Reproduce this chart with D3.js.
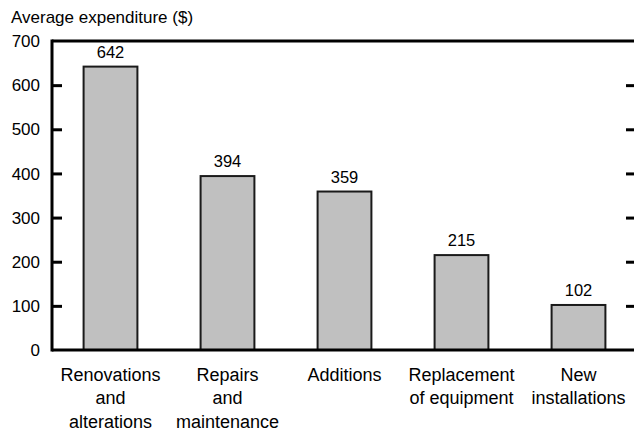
<!DOCTYPE html>
<html>
<head>
<meta charset="utf-8">
<script src="https://cdn.jsdelivr.net/npm/d3@7"></script>
<style>
  body { margin: 0; background: #fff; }
  svg text { font-family: "Liberation Sans", Arial, sans-serif; fill: #000; }
</style>
</head>
<body>
<div id="chart"></div>
<script>
var categories = [
  ["Renovations", "and", "alterations"],
  ["Repairs", "and", "maintenance"],
  ["Additions"],
  ["Replacement", "of equipment"],
  ["New", "installations"]
];
var values = [642, 394, 359, 215, 102];
var yTicks = [0, 100, 200, 300, 400, 500, 600, 700];
var yTitle = "Average expenditure ($)";

var width = 634, height = 430;
var plotLeft = 52, plotRight = 637, plotTop = 41, plotBottom = 350;

var svg = d3.select("#chart").append("svg")
  .attr("width", width)
  .attr("height", height);

var x = d3.scaleBand()
  .domain(d3.range(values.length))
  .range([plotLeft, plotRight])
  .paddingInner(0.54)
  .paddingOuter(0.27);

var y = d3.scaleLinear().domain([0, 700]).range([plotBottom, plotTop]);

// bars
svg.selectAll(".bar")
  .data(values)
  .enter().append("rect")
    .attr("class", "bar")
    .attr("x", function(d, i) { return x(i); })
    .attr("y", function(d) { return y(d); })
    .attr("width", x.bandwidth())
    .attr("height", function(d) { return plotBottom - y(d); })
    .attr("fill", "#c0c0c0")
    .attr("stroke", "#1a1a1a")
    .attr("stroke-width", 2);

// value labels
svg.selectAll(".val")
  .data(values)
  .enter().append("text")
    .attr("class", "val")
    .attr("x", function(d, i) { return x(i) + x.bandwidth() / 2; })
    .attr("y", function(d) { return y(d) - 9; })
    .attr("text-anchor", "middle")
    .style("font-size", "16.5px")
    .text(function(d) { return d; });

// frame
svg.append("line")
  .attr("x1", plotLeft).attr("x2", width).attr("y1", plotTop).attr("y2", plotTop)
  .attr("stroke", "#000").attr("stroke-width", 3);
svg.append("line")
  .attr("x1", plotLeft).attr("x2", width).attr("y1", plotBottom).attr("y2", plotBottom)
  .attr("stroke", "#000").attr("stroke-width", 3);
svg.append("line")
  .attr("x1", plotLeft).attr("x2", plotLeft).attr("y1", plotTop - 1.5).attr("y2", plotBottom + 1.5)
  .attr("stroke", "#000").attr("stroke-width", 3);

// left axis (ticks inward)
var yAxis = svg.append("g")
  .attr("transform", "translate(" + plotLeft + ",0)")
  .call(d3.axisRight(y).tickValues(yTicks.slice(1, -1)).tickSize(10).tickFormat(""));
yAxis.select(".domain").remove();
yAxis.selectAll("line").attr("stroke", "#000").attr("stroke-width", 3);

// right ticks
var yAxisR = svg.append("g")
  .attr("transform", "translate(" + width + ",0)")
  .call(d3.axisLeft(y).tickValues(yTicks.slice(1, -1)).tickSize(8).tickFormat(""));
yAxisR.select(".domain").remove();
yAxisR.selectAll("line").attr("stroke", "#000").attr("stroke-width", 3);

// y tick labels
svg.selectAll(".ylab")
  .data(yTicks)
  .enter().append("text")
    .attr("class", "ylab")
    .attr("x", 40)
    .attr("y", function(d) { return y(d); })
    .attr("dy", "0.36em")
    .attr("text-anchor", "end")
    .style("font-size", "17px")
    .text(function(d) { return d; });

// axis title
svg.append("text")
  .attr("x", 11)
  .attr("y", 23)
  .style("font-size", "17px")
  .text(yTitle);

// category labels
var cat = svg.selectAll(".cat")
  .data(categories)
  .enter().append("text")
    .attr("class", "cat")
    .attr("text-anchor", "middle")
    .style("font-size", "18px");
cat.each(function(lines, i) {
  var t = d3.select(this);
  lines.forEach(function(l, j) {
    t.append("tspan")
      .attr("x", x(i) + x.bandwidth() / 2)
      .attr("y", 380.5 + j * 23.5)
      .text(l);
  });
});
</script>
</body>
</html>
